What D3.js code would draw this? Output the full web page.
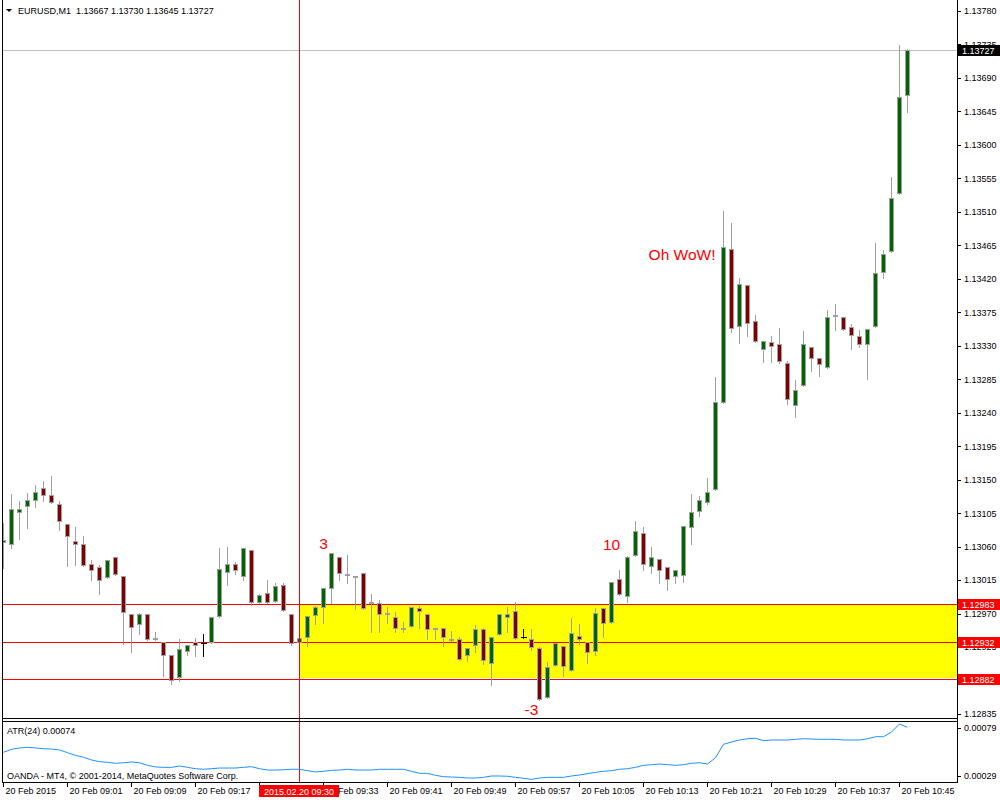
<!DOCTYPE html>
<html>
<head>
<meta charset="utf-8">
<script src="https://cdn.jsdelivr.net/npm/d3@7"></script>
<style>
  html, body { margin: 0; padding: 0; background: #fff; }
  svg { display: block; }
  text { font-family: "Liberation Sans", Arial, sans-serif; }
</style>
</head>
<body>
<script>
'use strict';

// EURUSD M1, 20 Feb 2015, 08:53 .. 10:46 (one entry per minute bar)
const title = 'EURUSD,M1  1.13667 1.13730 1.13645 1.13727';

const open = [
  1.13066, 1.13064, 1.13106, 1.13114, 1.13123, 1.13139, 1.13129, 1.13117, 1.13090, 1.13068,
  1.13063, 1.13036, 1.13032, 1.13019, 1.13046, 1.13021, 1.12970, 1.12956, 1.12969, 1.12937,
  1.12932, 1.12914, 1.12885, 1.12920, 1.12932, 1.12930, 1.12932, 1.12967, 1.13026, 1.13036,
  1.13021, 1.13056, 1.12985, 1.12998, 1.12987, 1.13009, 1.12970, 1.12932, 1.12938, 1.12968,
  1.12979, 1.13005, 1.13046, 1.13023, 1.13020, 1.13024, 1.12986, 1.12984, 1.12971, 1.12966,
  1.12950, 1.12953, 1.12977, 1.12969, 1.12951, 1.12950, 1.12936, 1.12936, 1.12914, 1.12928,
  1.12949, 1.12904, 1.12942, 1.12966, 1.12974, 1.12938, 1.12936, 1.12924, 1.12858, 1.12901,
  1.12927, 1.12894, 1.12940, 1.12932, 1.12920, 1.12977, 1.12958, 1.13016, 1.12993, 1.13049,
  1.13078, 1.13034, 1.13044, 1.13033, 1.13021, 1.13022, 1.13086, 1.13108, 1.13120, 1.13138,
  1.13255, 1.13460, 1.13356, 1.13412, 1.13363, 1.13325, 1.13335, 1.13333, 1.13307, 1.13250,
  1.13277, 1.13329, 1.13313, 1.13301, 1.13372, 1.13369, 1.13355, 1.13343, 1.13333, 1.13356,
  1.13429, 1.13457, 1.13535, 1.13667
];
const high = [
  1.13093, 1.13132, 1.13123, 1.13133, 1.13144, 1.13149, 1.13156, 1.13123, 1.13090, 1.13088,
  1.13076, 1.13043, 1.13037, 1.13044, 1.13046, 1.13021, 1.12970, 1.12972, 1.12970, 1.12947,
  1.12932, 1.12914, 1.12937, 1.12928, 1.12938, 1.12944, 1.12967, 1.13059, 1.13061, 1.13041,
  1.13058, 1.13056, 1.12997, 1.13017, 1.13012, 1.13013, 1.12970, 1.12937, 1.12967, 1.12982,
  1.13005, 1.13052, 1.13046, 1.13050, 1.13020, 1.13026, 1.12998, 1.12989, 1.12980, 1.12974,
  1.12960, 1.12979, 1.12982, 1.12969, 1.12951, 1.12950, 1.12948, 1.12940, 1.12924, 1.12956,
  1.12952, 1.12938, 1.12970, 1.12980, 1.12987, 1.12951, 1.12950, 1.12926, 1.12906, 1.12931,
  1.12927, 1.12965, 1.12957, 1.12932, 1.12979, 1.12977, 1.13012, 1.13030, 1.13049, 1.13096,
  1.13088, 1.13061, 1.13044, 1.13033, 1.13028, 1.13089, 1.13132, 1.13129, 1.13153, 1.13290,
  1.13512, 1.13496, 1.13423, 1.13412, 1.13373, 1.13336, 1.13345, 1.13355, 1.13311, 1.13285,
  1.13351, 1.13329, 1.13313, 1.13379, 1.13388, 1.13369, 1.13360, 1.13352, 1.13353, 1.13470,
  1.13460, 1.13558, 1.13736, 1.13730
];
const low = [
  1.13033, 1.13060, 1.13072, 1.13087, 1.13114, 1.13123, 1.13120, 1.13084, 1.13035, 1.13037,
  1.13035, 1.13017, 1.12997, 1.13019, 1.13023, 1.12930, 1.12920, 1.12944, 1.12936, 1.12936,
  1.12887, 1.12877, 1.12881, 1.12915, 1.12914, 1.12914, 1.12932, 1.12967, 1.13010, 1.13025,
  1.13017, 1.12983, 1.12985, 1.12986, 1.12987, 1.12975, 1.12929, 1.12930, 1.12928, 1.12957,
  1.12958, 1.12985, 1.13017, 1.13012, 1.12978, 1.12977, 1.12947, 1.12947, 1.12959, 1.12947,
  1.12946, 1.12953, 1.12952, 1.12937, 1.12937, 1.12928, 1.12935, 1.12909, 1.12908, 1.12920,
  1.12904, 1.12875, 1.12942, 1.12947, 1.12937, 1.12938, 1.12923, 1.12855, 1.12858, 1.12901,
  1.12888, 1.12894, 1.12931, 1.12905, 1.12915, 1.12940, 1.12958, 1.12996, 1.12987, 1.13049,
  1.13030, 1.13026, 1.13013, 1.13003, 1.13013, 1.13014, 1.13065, 1.13102, 1.13119, 1.13138,
  1.13255, 1.13350, 1.13335, 1.13344, 1.13337, 1.13309, 1.13309, 1.13308, 1.13253, 1.13235,
  1.13277, 1.13298, 1.13291, 1.13301, 1.13353, 1.13352, 1.13327, 1.13330, 1.13287, 1.13356,
  1.13422, 1.13457, 1.13535, 1.13645
];
const close = [
  1.13069, 1.13110, 1.13111, 1.13122, 1.13134, 1.13129, 1.13120, 1.13094, 1.13074, 1.13064,
  1.13035, 1.13029, 1.13015, 1.13042, 1.13023, 1.12972, 1.12952, 1.12970, 1.12936, 1.12936,
  1.12914, 1.12881, 1.12922, 1.12928, 1.12928, 1.12930, 1.12965, 1.13030, 1.13037, 1.13028,
  1.13058, 1.12985, 1.12995, 1.12986, 1.13007, 1.12975, 1.12930, 1.12937, 1.12967, 1.12979,
  1.13005, 1.13051, 1.13024, 1.13022, 1.13019, 1.12978, 1.12985, 1.12970, 1.12970, 1.12950,
  1.12949, 1.12979, 1.12974, 1.12949, 1.12950, 1.12938, 1.12935, 1.12909, 1.12924, 1.12949,
  1.12907, 1.12938, 1.12970, 1.12969, 1.12937, 1.12938, 1.12925, 1.12855, 1.12898, 1.12931,
  1.12899, 1.12944, 1.12936, 1.12918, 1.12971, 1.12957, 1.13012, 1.12996, 1.13046, 1.13081,
  1.13037, 1.13046, 1.13029, 1.13017, 1.13028, 1.13088, 1.13106, 1.13122, 1.13134, 1.13254,
  1.13463, 1.13354, 1.13413, 1.13361, 1.13337, 1.13336, 1.13330, 1.13310, 1.13258, 1.13271,
  1.13333, 1.13314, 1.13306, 1.13368, 1.13371, 1.13352, 1.13345, 1.13333, 1.13353, 1.13428,
  1.13454, 1.13528, 1.13665, 1.13727
];

// ATR(24) sub window
const atrTitle = 'ATR(24) 0.00074';
const atr = [
  0.000534, 0.000565, 0.000579, 0.000586, 0.000579, 0.000571, 0.000568, 0.000558, 0.000530, 0.000502,
  0.000482, 0.000454, 0.000436, 0.000430, 0.000419, 0.000425, 0.000433, 0.000425, 0.000398, 0.000381,
  0.000377, 0.000377, 0.000391, 0.000377, 0.000363, 0.000357, 0.000363, 0.000370, 0.000370, 0.000370,
  0.000377, 0.000384, 0.000363, 0.000349, 0.000349, 0.000352, 0.000357, 0.000357, 0.000342, 0.000329,
  0.000336, 0.000346, 0.000349, 0.000357, 0.000349, 0.000349, 0.000349, 0.000357, 0.000357, 0.000357,
  0.000357, 0.000336, 0.000315, 0.000315, 0.000294, 0.000280, 0.000276, 0.000273, 0.000266, 0.000266,
  0.000273, 0.000287, 0.000287, 0.000284, 0.000273, 0.000263, 0.000252, 0.000266, 0.000273, 0.000273,
  0.000273, 0.000287, 0.000297, 0.000311, 0.000325, 0.000336, 0.000342, 0.000357, 0.000363, 0.000377,
  0.000398, 0.000405, 0.000412, 0.000405, 0.000398, 0.000405, 0.000419, 0.000425, 0.000412, 0.000477,
  0.000617, 0.000641, 0.000662, 0.000675, 0.000680, 0.000655, 0.000662, 0.000662, 0.000662, 0.000669,
  0.000675, 0.000672, 0.000669, 0.000669, 0.000669, 0.000662, 0.000662, 0.000662, 0.000675, 0.000696,
  0.000696, 0.000745, 0.000829, 0.000794
];
const atrTicks = [0.00029, 0.00079];

const priceTicks = [
  1.12835, 1.12880, 1.12925, 1.12970, 1.13015, 1.13060, 1.13105, 1.13150, 1.13195, 1.13240, 1.13285,
  1.13330, 1.13375, 1.13420, 1.13465, 1.13510, 1.13555, 1.13600, 1.13645, 1.13690, 1.13735, 1.13780
];
const timeTickBars = [0, 8, 16, 24, 32, 40, 48, 56, 64, 72, 80, 88, 96, 104, 112];
const timeLabels = [
  '20 Feb 2015', '20 Feb 09:01', '20 Feb 09:09', '20 Feb 09:17', '20 Feb 09:25',
  '20 Feb 09:33', '20 Feb 09:41', '20 Feb 09:49', '20 Feb 09:57', '20 Feb 10:05',
  '20 Feb 10:13', '20 Feb 10:21', '20 Feb 10:29', '20 Feb 10:37', '20 Feb 10:45'
];

// objects drawn on the chart
const levels = [1.12983, 1.12932, 1.12882];
const zone = { fromBar: 37, top: 1.12983, bottom: 1.12884 };
const bid = 1.13727;
const crossBar = 37;
const crossLabel = '2015.02.20 09:30';
const notes = [
  { text: '3', bar: 40, price: 1.13057, anchor: 'middle' },
  { text: '10', bar: 76, price: 1.13055, anchor: 'middle' },
  { text: '-3', bar: 66, price: 1.12834, anchor: 'middle' },
  { text: 'Oh WoW!', bar: 89, price: 1.13445, anchor: 'end' },
];
const copyright = 'OANDA - MT4, \u00a9 2001-2014, MetaQuotes Software Corp.';

const W = 1000, H = 800;
const left = 2, right = 957;
const mainBottom = 718, atrTop = 721, atrBottom = 782;
const font = 9;

const svg = d3.select('body').append('svg')
  .attr('width', W).attr('height', H)
  .attr('shape-rendering', 'crispEdges');

const x = d3.scaleLinear().domain([0, 1]).range([3.5, 11.5]);
const y = d3.scaleLinear().domain([1.12835, 1.13780]).range([714, 11]);
const yAtr = d3.scaleLinear().domain(atrTicks).range([775.7, 727.7]);
const py = (p) => Math.round(y(p)) + 0.5;

const defs = svg.append('defs');
defs.append('clipPath').attr('id', 'clip-main')
  .append('rect').attr('x', left + 1).attr('y', 0)
  .attr('width', right - left - 1).attr('height', mainBottom);
defs.append('clipPath').attr('id', 'clip-atr')
  .append('rect').attr('x', left + 1).attr('y', atrTop + 1)
  .attr('width', right - left - 1).attr('height', atrBottom - atrTop - 1);

const main = svg.append('g').attr('clip-path', 'url(#clip-main)');

// yellow zone in the background
main.append('rect')
  .attr('x', Math.round(x(zone.fromBar)))
  .attr('y', Math.round(y(zone.top)))
  .attr('width', right - Math.round(x(zone.fromBar)))
  .attr('height', Math.round(y(zone.bottom)) - Math.round(y(zone.top)))
  .attr('fill', '#ffff00');

main.append('line')
  .attr('x1', left).attr('x2', right)
  .attr('y1', py(bid)).attr('y2', py(bid))
  .attr('stroke', '#c0c0c0');

main.selectAll('.level').data(levels).enter().append('line')
  .attr('class', 'level')
  .attr('x1', left).attr('x2', right)
  .attr('y1', (d) => py(d)).attr('y2', (d) => py(d))
  .attr('stroke', '#ff0000');

// vertical cross line runs through both windows
svg.append('line')
  .attr('x1', x(crossBar)).attr('x2', x(crossBar))
  .attr('y1', 0).attr('y2', atrBottom)
  .attr('stroke', '#ff0000');

// candles
const bars = d3.range(open.length);
const candle = main.selectAll('.candle').data(bars).enter().append('g')
  .attr('class', 'candle');

candle.append('line')
  .attr('x1', (i) => x(i)).attr('x2', (i) => x(i))
  .attr('y1', (i) => py(high[i])).attr('y2', (i) => py(low[i]) + 1)
  .attr('stroke', (i) => open[i] === close[i] ? '#000' : '#a0a0a0');

candle.filter((i) => open[i] === close[i]).append('line')
  .attr('x1', (i) => x(i) - 3).attr('x2', (i) => x(i) + 3)
  .attr('y1', (i) => py(open[i])).attr('y2', (i) => py(open[i]))
  .attr('stroke', '#000');

candle.filter((i) => open[i] !== close[i]).append('rect')
  .attr('x', (i) => x(i) - 2)
  .attr('y', (i) => py(Math.max(open[i], close[i])))
  .attr('width', 4)
  .attr('height', (i) => Math.max(1, py(Math.min(open[i], close[i])) - py(Math.max(open[i], close[i]))))
  .attr('fill', (i) => close[i] > open[i] ? '#006400' : '#800000')
  .attr('stroke', '#a0a0a0');

main.selectAll('.note').data(notes).enter().append('text')
  .attr('class', 'note')
  .attr('x', (d) => x(d.bar))
  .attr('y', (d) => y(d.price))
  .attr('text-anchor', (d) => d.anchor)
  .attr('fill', '#ff0000')
  .style('font-family', 'Arial, "Liberation Sans", sans-serif')
  .style('font-size', '15.5px')
  .text((d) => d.text);

// ATR window
const atrLine = d3.line()
  .x((d, i) => x(i))
  .y((d) => yAtr(d));

svg.append('g').attr('clip-path', 'url(#clip-atr)')
  .append('path')
  .attr('d', atrLine(atr))
  .attr('fill', 'none')
  .attr('stroke', '#1e90ff')
  .attr('stroke-width', 1)
  .attr('shape-rendering', 'auto');

svg.append('text')
  .attr('x', 7).attr('y', 733.5)
  .style('font-size', font + 'px')
  .text(atrTitle);

svg.append('text')
  .attr('x', 7).attr('y', 778.5)
  .style('font-size', font + 'px')
  .text(copyright);

// frames
const frame = svg.append('g').attr('stroke', '#000').attr('fill', 'none');
frame.append('line').attr('x1', left + 0.5).attr('x2', left + 0.5).attr('y1', 0).attr('y2', atrBottom + 1);
frame.append('line').attr('x1', right + 0.5).attr('x2', right + 0.5).attr('y1', 0).attr('y2', atrBottom + 1);
[mainBottom, atrTop, atrBottom].forEach((v) => {
  frame.append('line').attr('x1', left).attr('x2', right + 1).attr('y1', v + 0.5).attr('y2', v + 0.5);
});

// price axis
const styleAxis = (g) => {
  g.select('.domain').remove();
  g.selectAll('.tick line').attr('stroke', '#000');
  g.selectAll('text')
    .attr('fill', '#000')
    .style('font-family', '"Liberation Sans", Arial, sans-serif')
    .style('font-size', font + 'px');
};

svg.append('g')
  .attr('transform', `translate(${right + 1},0)`)
  .call(d3.axisRight(y).tickValues(priceTicks).tickSize(3).tickPadding(3)
    .tickFormat(d3.format('.5f')))
  .call(styleAxis);

svg.append('g')
  .attr('transform', `translate(${right + 1},0)`)
  .call(d3.axisRight(yAtr).tickValues(atrTicks).tickSize(3).tickPadding(3)
    .tickFormat(d3.format('.5f')))
  .call(styleAxis);

// time axis
svg.append('g')
  .attr('transform', `translate(-0.5,${atrBottom + 1})`)
  .call(d3.axisBottom(x).tickValues(timeTickBars).tickSize(4).tickPadding(1)
    .tickFormat((d, i) => timeLabels[i]))
  .call(styleAxis)
  .call((g) => g.selectAll('text').attr('text-anchor', 'start').attr('x', 2));

// price tags on the axis
const tags = [{ price: bid, fill: '#000' }].concat(levels.map((p) => ({ price: p, fill: '#ff0000' })));
const tag = svg.selectAll('.tag').data(tags).enter().append('g')
  .attr('class', 'tag')
  .attr('transform', (d) => `translate(${right + 1},${Math.round(y(d.price))})`);
tag.append('rect')
  .attr('x', 0).attr('y', -5).attr('width', 42).attr('height', 11)
  .attr('fill', (d) => d.fill);
tag.append('text')
  .attr('x', 4).attr('y', 3.5)
  .attr('fill', '#fff')
  .style('font-size', font + 'px')
  .text((d) => d3.format('.5f')(d.price));

// time tag of the cross line
const tt = svg.append('g').attr('transform', `translate(${Math.round(x(crossBar))},${atrBottom + 2})`);
tt.append('rect').attr('x', -41).attr('y', 1).attr('width', 80).attr('height', 12).attr('fill', '#ff0000');
tt.append('text').attr('x', -1).attr('y', 10.5).attr('text-anchor', 'middle')
  .attr('fill', '#fff').style('font-size', font + 'px').text(crossLabel);

// header
svg.append('path').attr('d', 'M6,9 L12,9 L9,12 Z').attr('fill', '#000').attr('shape-rendering', 'auto');
svg.append('text')
  .attr('x', 18).attr('y', 13.5)
  .style('font-size', font + 'px')
  .style('white-space', 'pre')
  .text(title);
</script>
</body>
</html>
